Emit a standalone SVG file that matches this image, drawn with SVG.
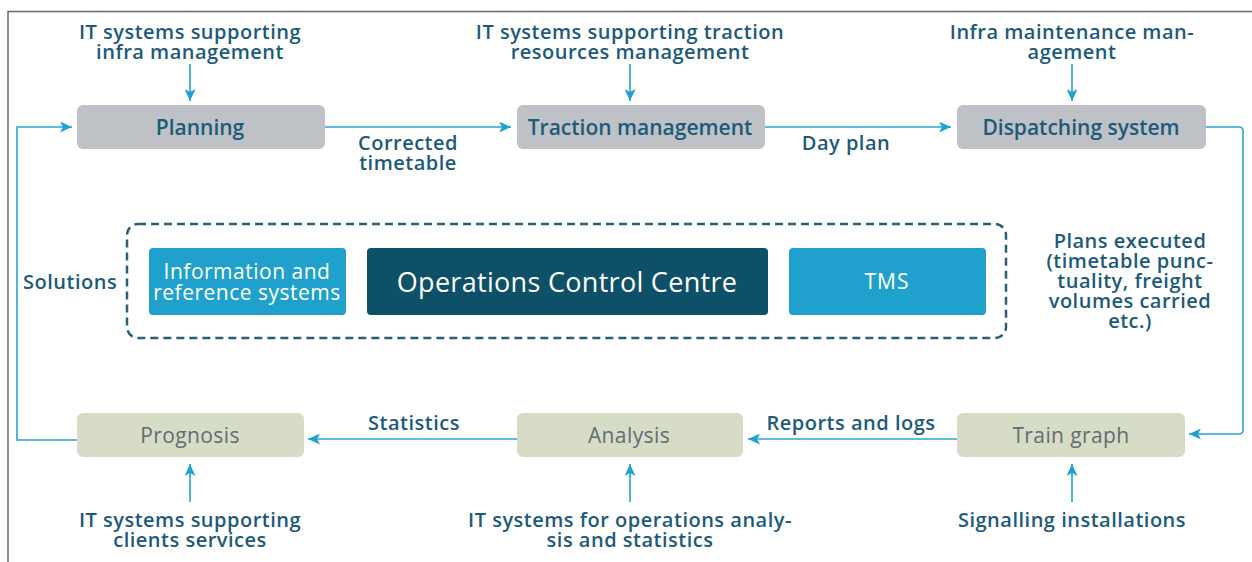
<svg xmlns="http://www.w3.org/2000/svg" width="1252" height="562" viewBox="0 0 1252 562">
<style>
text{font-family:"Open Sans","Noto Sans","Liberation Sans",sans-serif;}
.lbl{fill:#1d5a79;font-size:20px;font-weight:600;letter-spacing:0.5px;text-anchor:middle;}
.lbls{fill:#1d5a79;font-size:20px;font-weight:600;letter-spacing:0.5px;}
.gbox{fill:#bec2c6;}
.sbox{fill:#d7dcc7;}
.gt{fill:#1d5a79;font-size:21px;font-weight:600;text-anchor:middle;}
.st{fill:#5f6d74;font-size:21px;letter-spacing:0.4px;text-anchor:middle;}
.wt{fill:#ffffff;font-size:21px;letter-spacing:0.5px;text-anchor:middle;}
.con{fill:none;stroke:#2aa4d4;stroke-width:1.6;}
</style>
<defs>
<marker id="arr" markerUnits="userSpaceOnUse" markerWidth="13" markerHeight="11" refX="12" refY="5.5" orient="auto">
<path d="M0,0 L12,5.5 L0,11 L3,5.5 z" fill="#1fa2d2"/>
</marker>
</defs>
<rect width="1252" height="562" fill="#ffffff"/>
<path d="M8,562 V11.5 H1252" fill="none" stroke="#6a6a6a" stroke-width="1.5"/>

<g id="connectors">
<path class="con" d="M190,64 V101" marker-end="url(#arr)"/>
<path class="con" d="M630,64 V101" marker-end="url(#arr)"/>
<path class="con" d="M1072,64 V101" marker-end="url(#arr)"/>
<path class="con" d="M325,127 H511" marker-end="url(#arr)"/>
<path class="con" d="M765,127 H951" marker-end="url(#arr)"/>
<path class="con" d="M1206,127 H1239 Q1243,127 1243,131 V430 Q1243,434 1239,434 H1189" marker-end="url(#arr)"/>
<path class="con" d="M957,439 H748" marker-end="url(#arr)"/>
<path class="con" d="M517,439 H308" marker-end="url(#arr)"/>
<path class="con" d="M77,440 H17 V127 H72" marker-end="url(#arr)"/>
<path class="con" d="M190,502 V464" marker-end="url(#arr)"/>
<path class="con" d="M630,502 V464" marker-end="url(#arr)"/>
<path class="con" d="M1072,502 V464" marker-end="url(#arr)"/>
</g>

<g id="labels">
<text class="lbl" x="190" y="39">IT systems supporting</text>
<text class="lbl" x="190" y="59">infra management</text>
<text class="lbl" x="630" y="39">IT systems supporting traction</text>
<text class="lbl" x="630" y="59">resources management</text>
<text class="lbl" x="1072" y="39">Infra maintenance man-</text>
<text class="lbl" x="1072" y="59">agement</text>
<text class="lbl" x="408" y="150">Corrected</text>
<text class="lbl" x="408" y="170">timetable</text>
<text class="lbl" x="846" y="150">Day plan</text>
<text class="lbls" x="23" y="289">Solutions</text>
<text class="lbl" x="1130" y="248">Plans executed</text>
<text class="lbl" x="1130" y="268">(timetable punc-</text>
<text class="lbl" x="1130" y="288">tuality, freight</text>
<text class="lbl" x="1130" y="308">volumes carried</text>
<text class="lbl" x="1130" y="328">etc.)</text>
<text class="lbl" x="851" y="430">Reports and logs</text>
<text class="lbl" x="414" y="430">Statistics</text>
<text class="lbl" x="190" y="527">IT systems supporting</text>
<text class="lbl" x="190" y="547">clients services</text>
<text class="lbl" x="630" y="527">IT systems for operations analy-</text>
<text class="lbl" x="630" y="547">sis and statistics</text>
<text class="lbl" x="1072" y="527">Signalling installations</text>
</g>

<g id="planning"><rect class="gbox" x="77" y="105" width="248" height="44" rx="6"/><text class="gt" x="200" y="135">Planning</text></g>
<g id="traction"><rect class="gbox" x="517" y="105" width="248" height="44" rx="6"/><text class="gt" x="640" y="135">Traction management</text></g>
<g id="dispatching"><rect class="gbox" x="957" y="105" width="249" height="44" rx="6"/><text class="gt" x="1081" y="135">Dispatching system</text></g>

<g id="prognosis"><rect class="sbox" x="77" y="413" width="227" height="44" rx="6"/><text class="st" x="190" y="443">Prognosis</text></g>
<g id="analysis"><rect class="sbox" x="517" y="413" width="226" height="44" rx="6"/><text class="st" x="629" y="443">Analysis</text></g>
<g id="traingraph"><rect class="sbox" x="957" y="413" width="228" height="44" rx="6"/><text class="st" x="1071" y="443">Train graph</text></g>

<g id="solutions">
<rect x="127" y="224" width="879" height="114" rx="11" fill="none" stroke="#2a5f78" stroke-width="2.5" stroke-dasharray="8,5"/>
</g>
<g id="info"><rect x="149" y="248" width="197" height="67" rx="4" fill="#20a1cd"/><text class="wt" x="247" y="279">Information and</text><text class="wt" x="247" y="300">reference systems</text></g>
<g id="occ"><rect x="367" y="248" width="401" height="67" rx="4" fill="#0f5069"/><text class="wt" x="567" y="292" style="font-size:27px;letter-spacing:0.3px">Operations Control Centre</text></g>
<g id="tms"><rect x="789" y="248" width="197" height="67" rx="4" fill="#20a1cd"/><text class="wt" x="887" y="289" style="letter-spacing:1px">TMS</text></g>
</svg>
